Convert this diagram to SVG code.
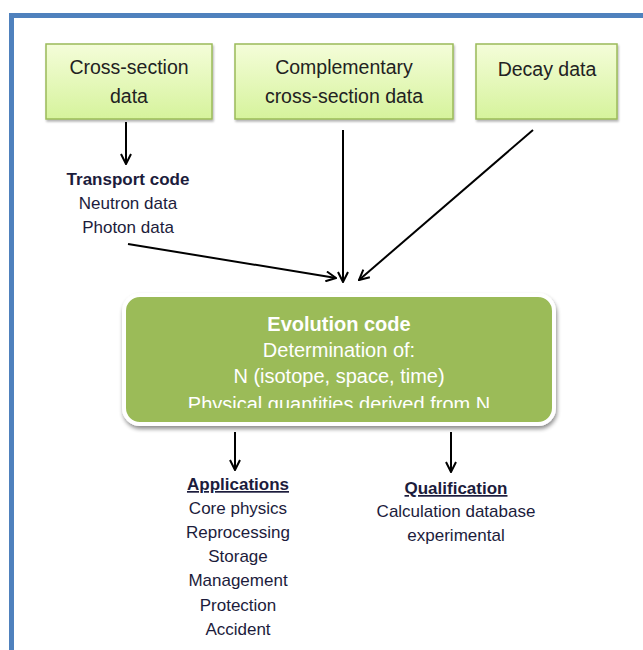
<svg xmlns="http://www.w3.org/2000/svg" width="643" height="650" viewBox="0 0 643 650">
<defs>
<linearGradient id="gIn" x1="0" y1="0" x2="0" y2="1">
<stop offset="0" stop-color="#f4fdd9"/>
<stop offset="1" stop-color="#d6f39c"/>
</linearGradient>
<filter id="sh" x="-10%" y="-10%" width="120%" height="130%">
<feGaussianBlur in="SourceAlpha" stdDeviation="2"/>
<feOffset dx="1" dy="3" result="b"/>
<feComponentTransfer><feFuncA type="linear" slope="0.45"/></feComponentTransfer>
<feMerge><feMergeNode/><feMergeNode in="SourceGraphic"/></feMerge>
</filter>
<filter id="bsh" x="-10%" y="-10%" width="120%" height="130%">
<feGaussianBlur in="SourceAlpha" stdDeviation="1"/>
<feOffset dx="1" dy="2"/>
<feComponentTransfer><feFuncA type="linear" slope="0.3"/></feComponentTransfer>
<feMerge><feMergeNode/><feMergeNode in="SourceGraphic"/></feMerge>
</filter>
<clipPath id="clipEvo"><rect x="122" y="296" width="433" height="112"/></clipPath>
<marker id="ah" viewBox="0 0 12 12" refX="11" refY="6" markerWidth="12" markerHeight="12" markerUnits="userSpaceOnUse" orient="auto">
<path d="M1,1 L11,6 L1,11" fill="none" stroke="#000" stroke-width="2"/>
</marker>
</defs>
<style>
.in{fill:url(#gIn);stroke:#9bbb59;stroke-width:1.5}
.t{font-family:"Liberation Sans",Arial,sans-serif;font-size:19.5px;fill:#222;text-anchor:middle}
.s{font-family:"Liberation Sans",Arial,sans-serif;font-size:17px;fill:#1c1c3c;text-anchor:middle}
.b{font-weight:bold}
.u{text-decoration:underline}
.w{font-family:"Liberation Sans",Arial,sans-serif;font-size:20px;fill:#fff;text-anchor:middle}
.c{stroke:#000;stroke-width:2;fill:none;marker-end:url(#ah)}
</style>
<rect x="0" y="0" width="643" height="650" fill="#fff"/>
<path d="M11.5,660 L11.5,15.5 L650,15.5" fill="none" stroke="#4f81bd" stroke-width="5"/>

<g id="crossSection">
<rect class="in" x="46" y="44" width="166" height="75" filter="url(#bsh)"/>
<text class="t" x="129" y="74">Cross-section</text>
<text class="t" x="129" y="103">data</text>
</g>
<g id="complementary">
<rect class="in" x="235" y="44" width="218" height="75" filter="url(#bsh)"/>
<text class="t" x="344" y="74">Complementary</text>
<text class="t" x="344" y="103">cross-section data</text>
</g>
<g id="decay">
<rect class="in" x="476" y="44" width="141" height="75" filter="url(#bsh)"/>
<text class="t" x="547" y="76">Decay data</text>
</g>
<g id="transport">
<text class="s b" x="128" y="185">Transport code</text>
<text class="s" x="128" y="209">Neutron data</text>
<text class="s" x="128" y="233">Photon data</text>
</g>
<g id="evolution">
<rect x="124" y="295" width="430" height="129" rx="16" fill="#9bbb59" stroke="#fff" stroke-width="4" filter="url(#sh)"/>
<g clip-path="url(#clipEvo)">
<text class="w b" x="339" y="331" font-size="19px">Evolution code</text>
<text class="w" x="339" y="357">Determination of:</text>
<text class="w" x="339" y="383">N (isotope, space, time)</text>
<text class="w" x="339" y="411">Physical quantities derived from N</text>
</g>
</g>
<g id="applications">
<text class="s b u" x="238" y="490">Applications</text>
<text class="s" x="238" y="514">Core physics</text>
<text class="s" x="238" y="538">Reprocessing</text>
<text class="s" x="238" y="562">Storage</text>
<text class="s" x="238" y="586">Management</text>
<text class="s" x="238" y="611">Protection</text>
<text class="s" x="238" y="635">Accident</text>
</g>
<g id="qualification">
<text class="s b u" x="456" y="494">Qualification</text>
<text class="s" x="456" y="517">Calculation database</text>
<text class="s" x="456" y="541">experimental</text>
</g>
<g id="connectors">
<line class="c" x1="126" y1="122" x2="126" y2="164"/>
<line class="c" x1="128" y1="244" x2="336" y2="278"/>
<line class="c" x1="343" y1="130" x2="343" y2="282"/>
<line class="c" x1="533" y1="130" x2="359" y2="280"/>
<line class="c" x1="235" y1="432" x2="235" y2="470"/>
<line class="c" x1="451" y1="432" x2="451" y2="472"/>
</g>
</svg>
